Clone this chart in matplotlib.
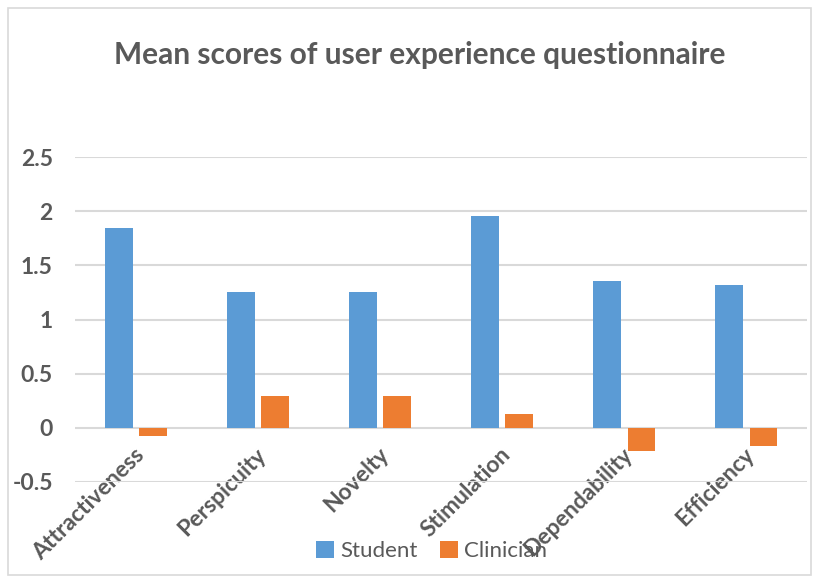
import numpy as np
import matplotlib.pyplot as plt
from matplotlib.patches import Rectangle

categories = ["Attractiveness", "Perspicuity", "Novelty", "Stimulation", "Dependability", "Efficiency"]
student = [1.85, 1.25, 1.25, 1.96, 1.36, 1.32]
clinician = [-0.08, 0.29, 0.29, 0.13, -0.21, -0.17]
yticks = [-0.5, 0, 0.5, 1, 1.5, 2, 2.5]

BLUE = "#5B9BD5"
ORANGE = "#ED7D31"
GRAY = "#595959"
FONT = ["Lato", "DejaVu Sans"]

plt.rcParams["font.family"] = FONT

fig = plt.figure(figsize=(8.19, 5.82), dpi=100)
ax = fig.add_axes([0.0916, 0.172, 0.894, 0.558])

x = np.arange(len(categories))
w = 0.225
ax.bar(x - 0.14, student, w, color=BLUE, label="Student", zorder=3)
ax.bar(x + 0.14, clinician, w, color=ORANGE, label="Clinician", zorder=3)

ax.set_xlim(-0.5, len(categories) - 0.5)
ax.set_ylim(-0.5, 2.5)
ax.set_yticks(yticks, [f"{v:g}" for v in yticks])
ax.yaxis.grid(True, color="#D9D9D9", linewidth=1.5, zorder=0)
ax.tick_params(axis="y", length=0, pad=16, labelsize=16.5, labelcolor=GRAY)
for lab in ax.get_yticklabels():
    lab.set_fontweight("bold")

# category labels sit under the zero line
ax.spines["bottom"].set_position(("data", 0))
for s in ax.spines.values():
    s.set_visible(False)
ax.set_xticks(x + 0.04, categories)
ax.tick_params(axis="x", length=0, pad=17, labelsize=16.5, labelcolor=GRAY)
for lab in ax.get_xticklabels():
    lab.set_rotation(45)
    lab.set_ha("right")
    lab.set_va("center")
    lab.set_rotation_mode("anchor")
    lab.set_fontweight("bold")

fig.text(0.513, 0.905, "Mean scores of user experience questionnaire",
         ha="center", va="center", fontsize=21.5, fontweight="bold", color=GRAY)

leg = fig.legend(loc="center", bbox_to_anchor=(0.527, 0.053), ncol=2, frameon=False,
                 fontsize=16, handlelength=0.8, handleheight=0.8, handletextpad=0.3,
                 columnspacing=1.0)
for t in leg.get_texts():
    t.set_color(GRAY)

fig.add_artist(Rectangle((0.01, 0.012), 0.98, 0.975, transform=fig.transFigure,
                         fill=False, edgecolor="#D9D9D9", linewidth=1.2))

fig.savefig("out.png", dpi=100)
